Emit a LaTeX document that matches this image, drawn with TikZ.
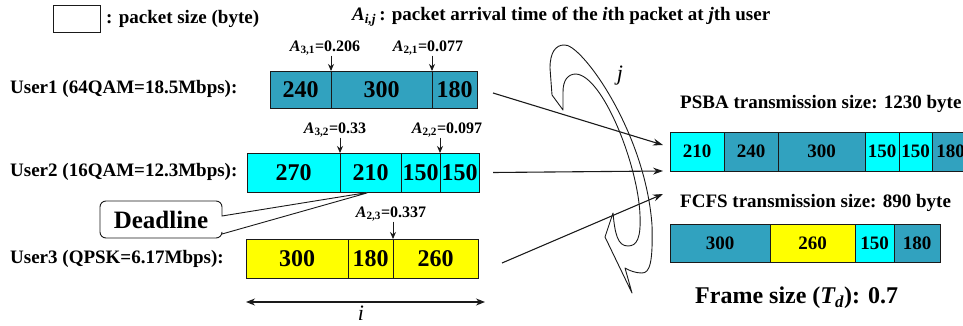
\documentclass[tikz,border=0pt]{standalone}
\usepackage{fontspec}
\setmainfont{Liberation Serif}
\usepackage{tikz}
\usetikzlibrary{arrows.meta,positioning,shapes.callouts}
\definecolor{pkInk}{HTML}{1A1A1A}
\definecolor{pkTeal}{HTML}{31A2BF}
\definecolor{pkCyan}{HTML}{00FFFF}
\definecolor{pkYellow}{HTML}{FFFF00}
\tikzset{
  % Packet cell in a user queue
  cell/.style={rectangle,draw=pkInk,line width=0.9pt,
    inner sep=0pt,outer sep=0pt,minimum height=39pt,
    font=\fontsize{24}{26}\selectfont\bfseries},
  % Packet cell in a transmission frame
  tcell/.style={cell,font=\fontsize{19}{21}\selectfont\bfseries},
  tcl/.style={tcell,fill=pkTeal},
  tcy/.style={tcell,fill=pkCyan},
  tye/.style={tcell,fill=pkYellow},
  % Text labels
  ulbl/.style={anchor=west,inner sep=0pt,
    font=\fontsize{19}{21}\selectfont\bfseries},
  albl/.style={inner sep=0pt,font=\fontsize{16}{18}\selectfont\bfseries},
  % Deadline callout
  dlbox/.style={rectangle callout,rounded corners=6pt,draw=pkInk,
    line width=0.9pt,fill=white,minimum width=122pt,minimum height=37pt,
    callout pointer width=18pt,inner sep=0pt,
    font=\fontsize{25}{27}\selectfont\bfseries},
  % Arrows
  arr/.style={-{Stealth[length=10pt,width=7pt]},line width=1.1pt,color=pkInk},
  arrv/.style={-{Stealth[length=7pt,width=6pt]},line width=0.9pt,color=pkInk},
  arrb/.style={{Stealth[length=9pt,width=7pt]}-{Stealth[length=9pt,width=7pt]},
    line width=1.1pt,color=pkInk},
}

\begin{document}
\begin{tikzpicture}[x=1pt,y=-1pt]
  \useasboundingbox (0,0) rectangle (963,326);

  %% --- LEGEND ---
  \node[draw=pkInk,line width=0.9pt,minimum width=47pt,minimum height=27pt,
    inner sep=0pt,anchor=north west] (legend) at (53,5) {};
  \node[ulbl,right=5pt of legend] (legtxt) {: packet size (byte)};
  \node[ulbl] (arrtxt) at (352,17)
    {{\itshape A\textsubscript{i,j}}\,: packet arrival time of the {\itshape i}th packet at {\itshape j}th user};

  %% --- USER 1 ---
  \node[ulbl] (user1) at (10,89) {User1 (64QAM=18.5Mbps):};
  \node[cell,fill=pkTeal,minimum height=37pt,minimum width=61pt,
    anchor=north west] (u1a) at (270,71) {240};
  \node[cell,fill=pkTeal,minimum height=37pt,minimum width=101pt,
    right=0pt of u1a] (u1b) {300};
  \node[cell,fill=pkTeal,minimum height=37pt,minimum width=45pt,
    right=0pt of u1b] (u1c) {180};

  \node[albl] (a31) at (325,48) {{\itshape A}\textsubscript{3,1}=0.206};
  \node[albl] (a21) at (428,48) {{\itshape A}\textsubscript{2,1}=0.077};
  \draw[arrv] (a31.south -| u1a.north east) -- (u1a.north east);
  \draw[arrv] (a21.south -| u1b.north east) -- (u1b.north east);

  %% --- USER 2 ---
  \node[ulbl] (user2) at (10,172) {User2 (16QAM=12.3Mbps):};
  \node[cell,fill=pkCyan,minimum width=93pt,anchor=north west] (u2a)
    at (247,153) {270};
  \node[cell,fill=pkCyan,minimum width=61pt,right=0pt of u2a] (u2b) {210};
  \node[cell,fill=pkCyan,minimum width=39pt,right=0pt of u2b] (u2c) {150};
  \node[cell,fill=pkCyan,minimum width=39pt,right=0pt of u2c] (u2d) {150};

  \node[albl] (a32) at (335,130) {{\itshape A}\textsubscript{3,2}=0.33};
  \node[albl] (a22) at (447,130) {{\itshape A}\textsubscript{2,2}=0.097};
  \draw[arrv] (a32.south -| u2a.north east) -- (u2a.north east);
  \draw[arrv] (a22.south -| u2c.north east) -- (u2c.north east);

  \node[dlbox,callout absolute pointer={(u2b.south)}] (dline) at (161,219.5)
    {Deadline};

  %% --- USER 3 ---
  \node[ulbl] (user3) at (10,259) {User3 (QPSK=6.17Mbps):};
  \node[cell,fill=pkYellow,minimum width=102pt,anchor=north west] (u3a)
    at (246,239) {300};
  \node[cell,fill=pkYellow,minimum width=45pt,right=0pt of u3a] (u3b) {180};
  \node[cell,fill=pkYellow,minimum width=85pt,right=0pt of u3b] (u3c) {260};

  \node[albl] (a23) at (391,214) {{\itshape A}\textsubscript{2,3}=0.337};
  \draw[arrv] (a23.south -| u3b.north east) -- (u3b.north east);

  % packet index axis
  \coordinate (ia) at (246,302);
  \coordinate (ib) at (485,302);
  \draw[arrb] (ia) -- (ib);
  \node[font=\fontsize{22}{24}\selectfont\itshape] (ilbl) at (361,313) {i};

  %% --- PSBA FRAME ---
  \node[ulbl] (psbat) at (680,104) {PSBA transmission size: 1230 byte};
  \node[tcy,minimum width=54pt,anchor=north west] (p1) at (670,132) {210};
  \node[tcl,minimum width=54pt,right=0pt of p1] (p2) {240};
  \node[tcl,minimum width=87pt,right=0pt of p2] (p3) {300};
  \node[tcy,minimum width=34pt,right=0pt of p3] (p4) {150};
  \node[tcy,minimum width=33pt,right=0pt of p4] (p5) {150};
  \node[tcl,minimum width=37pt,right=0pt of p5] (p6) {180};

  %% --- FCFS FRAME ---
  \node[ulbl] (fcfst) at (680,203) {FCFS transmission size: 890 byte};
  \node[tcl,minimum width=100pt,minimum height=38pt,anchor=north west] (f1)
    at (670,224) {300};
  \node[tye,minimum width=85pt,minimum height=38pt,right=0pt of f1] (f2) {260};
  \node[tcy,minimum width=39pt,minimum height=38pt,right=0pt of f2] (f3) {150};
  \node[tcl,minimum width=46pt,minimum height=38pt,right=0pt of f3] (f4) {180};

  \node[anchor=west,inner sep=0pt,font=\fontsize{24}{26}\selectfont\bfseries]
    (frame) at (695,298) {Frame size ({\itshape T\textsubscript{d}}): 0.7};

  %% --- SCHEDULING ARROWS ---
  \draw[arr] ([xshift=16pt,yshift=-3.5pt]u1c.east) -- ([xshift=-7pt,yshift=6.5pt]p1.west);
  \draw[arr] ([xshift=14pt]u2d.east) -- ([xshift=-7pt,yshift=-19.5pt]p1.west);
  \draw[arr] ([xshift=24pt,yshift=-4.5pt]u3c.east) -- ([xshift=-7pt,yshift=-42.5pt]p1.west);

  % user index j (curved block arrow)
  \draw[line width=0.9pt,color=pkInk,line join=round]
    (552,95) -- (550,68) .. controls (550,52) and (556,45) .. (564,45)
    .. controls (580,42) and (645,130) .. (652,225)
    .. controls (653,262) and (650,273) .. (642,273)
    .. controls (636,273) and (630,271) .. (625,268)
    -- (632,293) -- (605,237) -- (613,213)
    .. controls (615,235) and (618,246) .. (628,246)
    .. controls (637,246) and (641,238) .. (640,215)
    .. controls (638,165) and (603,76) .. (576,74)
    .. controls (568,74) and (563,80) .. (563,92) -- (563,110) -- cycle;
  \node[font=\fontsize{22}{24}\selectfont\itshape] (jlbl) at (620,76) {j};
\end{tikzpicture}
\end{document}
